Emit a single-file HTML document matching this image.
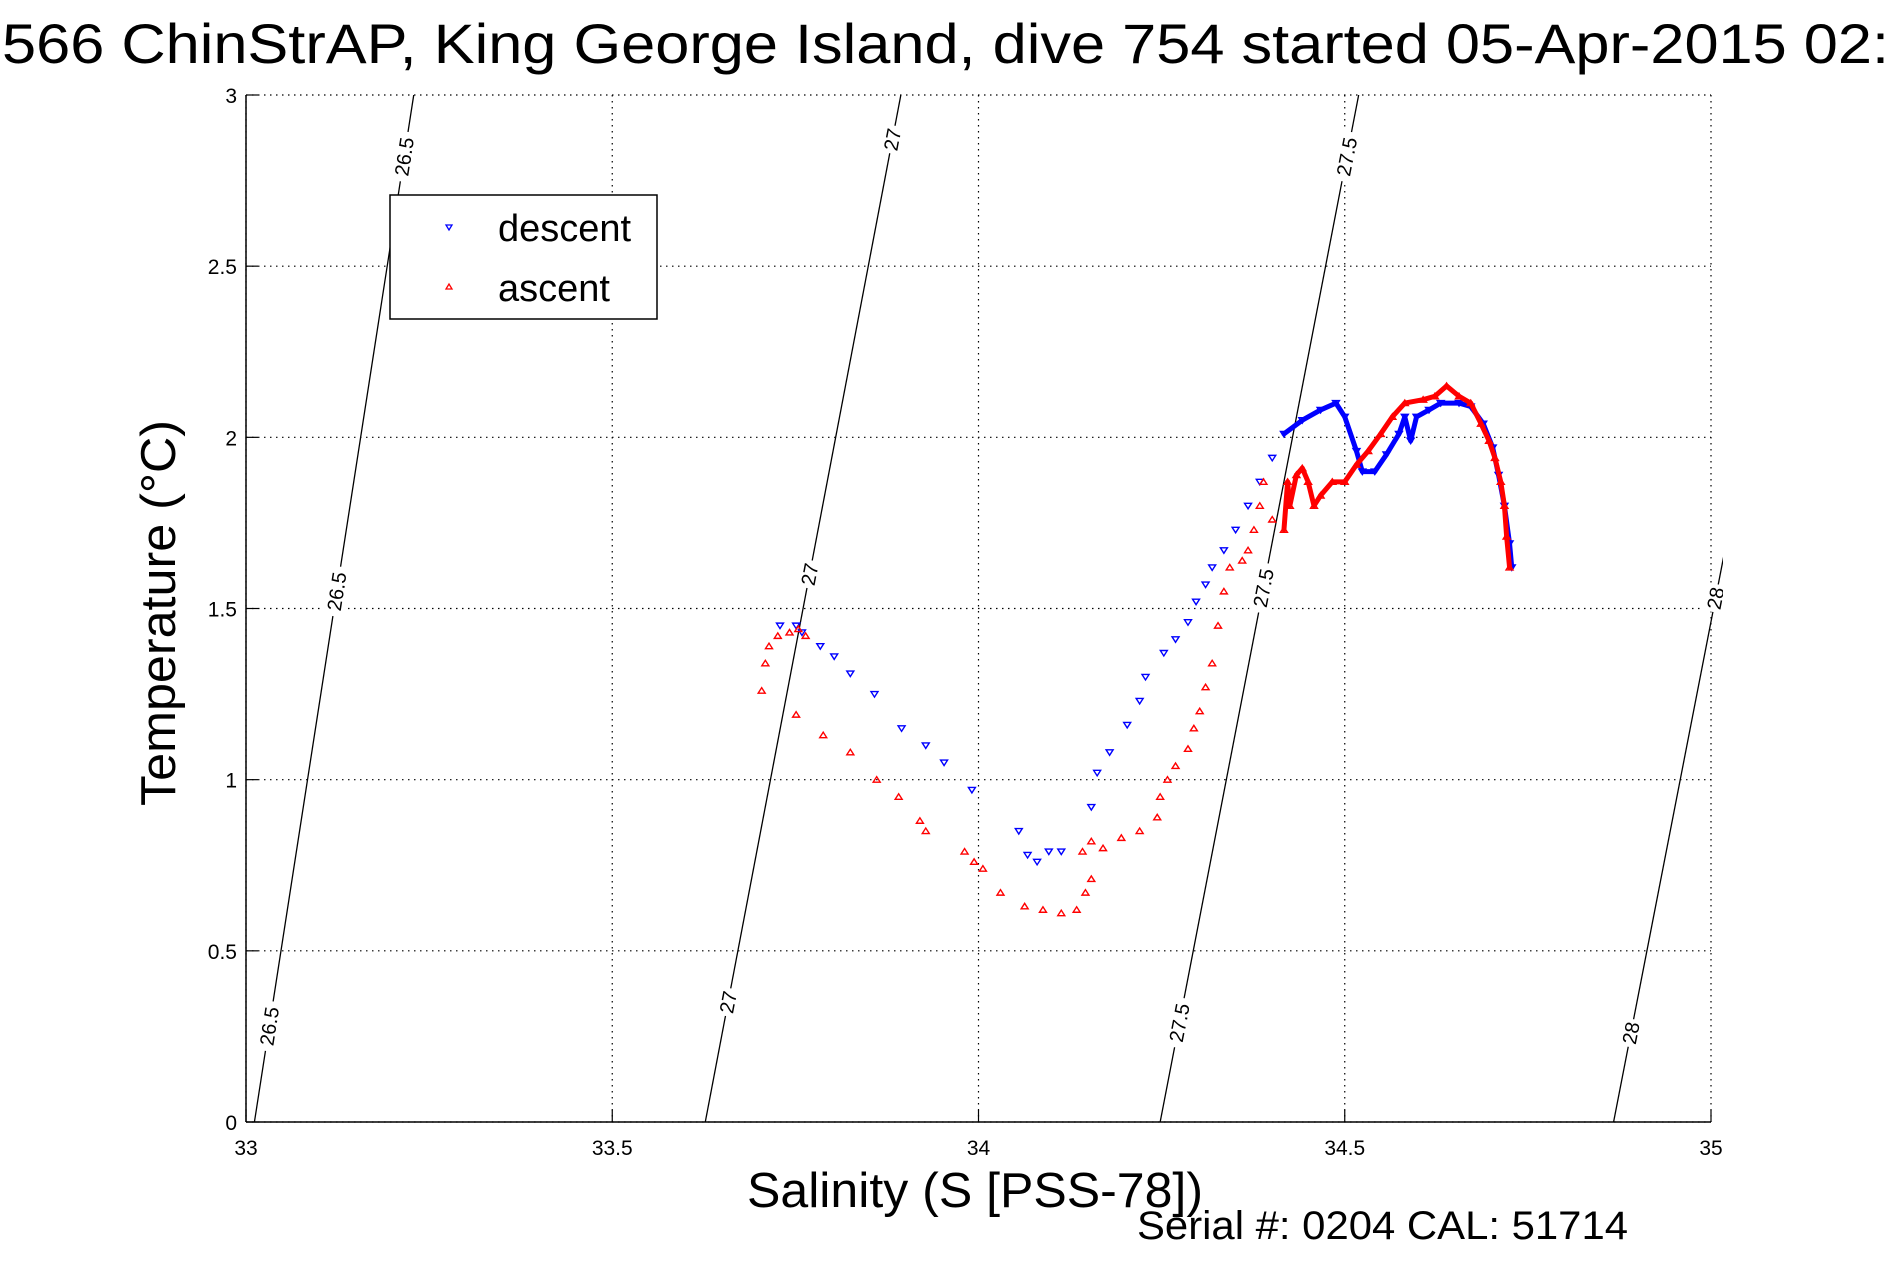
<!DOCTYPE html>
<html><head><meta charset="utf-8"><style>
html,body{margin:0;padding:0;background:#fff;}
svg{display:block;font-family:"Liberation Sans",sans-serif;}
</style></head><body>
<svg id="chart" width="1891" height="1262" viewBox="0 0 1891 1262" xmlns="http://www.w3.org/2000/svg">
<rect width="1891" height="1262" fill="#fff"/>
<text x="2" y="63" font-size="56" textLength="1887" lengthAdjust="spacingAndGlyphs">566 ChinStrAP, King George Island, dive 754 started 05-Apr-2015 02:</text>
<g id="grid"></g>
<g id="iso"></g>
<g id="series"></g>
<g id="axes"></g>
<text transform="translate(175,613) rotate(-90)" text-anchor="middle" font-size="49" textLength="386" lengthAdjust="spacingAndGlyphs">Temperature (°C)</text>
<text x="975" y="1207" text-anchor="middle" font-size="49" textLength="456" lengthAdjust="spacingAndGlyphs">Salinity (S [PSS-78])</text>
<text x="1137" y="1239" font-size="40" textLength="491" lengthAdjust="spacingAndGlyphs">Serial #: 0204  CAL: 51714</text>
<g>
<rect x="390" y="195" width="267" height="124" fill="#fff" stroke="#000" stroke-width="1.5"/>
<path d="M446,225 L452,225 L449,230 Z" fill="none" stroke="#00f" stroke-width="1.3"/>
<text x="498" y="241" font-size="38">descent</text>
<path d="M446,289 L452,289 L449,284 Z" fill="none" stroke="#f00" stroke-width="1.3"/>
<text x="498" y="301" font-size="38">ascent</text>
</g>
</svg>
<script>
const xTicks=[33,33.5,34,34.5,35];
const xTickLabels=["33","33.5","34","34.5","35"];
const yTicks=[0,0.5,1,1.5,2,2.5,3];
const yTickLabels=["0","0.5","1","1.5","2","2.5","3"];
const isoLevels=["26.5","27","27.5","28"];
const isoS0=[33.0115,33.627,34.248,34.867];
const isoS3=[33.229,33.894,34.519,35.14];
const isoLabelT=[[2.82,1.55,0.28],[2.87,1.60,0.35],[2.82,1.56,0.29],[1.53,0.26]];
const descS=[33.729,33.751,33.759,33.784,33.803,33.825,33.858,33.895,33.928,33.953,33.991,34.055,34.067,34.080,34.096,34.113,34.154,34.162,34.179,34.203,34.220,34.228,34.253,34.269,34.286,34.297,34.310,34.319,34.335,34.351,34.368,34.384,34.401,34.417,34.442,34.467,34.488,34.500,34.516,34.524,34.541,34.557,34.574,34.582,34.590,34.598,34.615,34.631,34.656,34.672,34.689,34.702,34.710,34.718,34.725,34.728];
const descT=[1.45,1.45,1.43,1.39,1.36,1.31,1.25,1.15,1.10,1.05,0.97,0.85,0.78,0.76,0.79,0.79,0.92,1.02,1.08,1.16,1.23,1.30,1.37,1.41,1.46,1.52,1.57,1.62,1.67,1.73,1.80,1.87,1.94,2.01,2.05,2.08,2.10,2.06,1.96,1.90,1.90,1.95,2.01,2.06,1.99,2.06,2.08,2.10,2.10,2.09,2.04,1.97,1.89,1.80,1.69,1.62];
const ascS=[33.704,33.709,33.714,33.726,33.742,33.754,33.764,33.751,33.788,33.825,33.861,33.891,33.920,33.928,33.981,33.994,34.006,34.030,34.063,34.088,34.113,34.134,34.146,34.154,34.142,34.154,34.170,34.195,34.220,34.244,34.248,34.258,34.269,34.286,34.294,34.302,34.310,34.319,34.327,34.335,34.343,34.360,34.368,34.376,34.384,34.389,34.401,34.417,34.422,34.425,34.434,34.442,34.450,34.458,34.467,34.483,34.500,34.516,34.532,34.549,34.565,34.582,34.607,34.623,34.639,34.656,34.672,34.686,34.697,34.705,34.713,34.718,34.721,34.725];
const ascT=[1.26,1.34,1.39,1.42,1.43,1.44,1.42,1.19,1.13,1.08,1.00,0.95,0.88,0.85,0.79,0.76,0.74,0.67,0.63,0.62,0.61,0.62,0.67,0.71,0.79,0.82,0.80,0.83,0.85,0.89,0.95,1.00,1.04,1.09,1.15,1.20,1.27,1.34,1.45,1.55,1.62,1.64,1.67,1.73,1.80,1.87,1.76,1.73,1.87,1.80,1.89,1.91,1.87,1.80,1.83,1.87,1.87,1.92,1.96,2.01,2.06,2.10,2.11,2.12,2.15,2.12,2.10,2.04,1.99,1.94,1.87,1.80,1.71,1.62];

const L=246,R=1711,T=95,B=1122;
const xs=s=>L+(s-33)/2*(R-L);
const ys=t=>B-t/3*(B-T);
const NS="http://www.w3.org/2000/svg";
function mk(tag,parent,attrs){const e=document.createElementNS(NS,tag);for(const k in attrs)e.setAttribute(k,attrs[k]);parent.appendChild(e);return e;}
const grid=document.getElementById('grid'),axes=document.getElementById('axes'),iso=document.getElementById('iso'),ser=document.getElementById('series');

xTicks.forEach((v,i)=>{
  const x=xs(v);
  const g=mk('line',grid,{x1:x,x2:x,y1:T,y2:B,stroke:'#000','stroke-width':1.2,'stroke-dasharray':'1.5 4.5'});
  
  
  const tk=mk('line',axes,{x1:x,x2:x,y1:B,y2:B-12,stroke:'#000','stroke-width':1.2});
  
  
  const t=mk('text',axes,{x:x,y:1155,'text-anchor':'middle','font-size':21});
  t.textContent=xTickLabels[i];
  
  
});
yTicks.forEach((v,i)=>{
  const y=ys(v);
  const g=mk('line',grid,{x1:L,x2:R,y1:y,y2:y,stroke:'#000','stroke-width':1.2,'stroke-dasharray':'1.5 4.5'});
  
  
  const tk=mk('line',axes,{x1:L,x2:L+12,y1:y,y2:y,stroke:'#000','stroke-width':1.2});
  
  
  const t=mk('text',axes,{x:237,y:y+8,'text-anchor':'end','font-size':21});
  t.textContent=yTickLabels[i];
  
  
});
const xa=mk('line',axes,{x1:L,x2:R,y1:B,y2:B,stroke:'#000','stroke-width':1.5});


const ya=mk('line',axes,{x1:L,x2:L,y1:T,y2:B,stroke:'#000','stroke-width':1.5});



const defs=mk('defs',document.getElementById('chart'),{});
const cp=mk('clipPath',defs,{id:'pc'});
mk('rect',cp,{x:L,y:T,width:R-L+12,height:B-T});
iso.setAttribute('clip-path','url(#pc)');
isoLevels.forEach((lev,i)=>{
  const x0=xs(isoS0[i]),y0=ys(0),x3=xs(isoS3[i]),y3=ys(3);
  const ln=mk('line',iso,{x1:x0,y1:y0,x2:x3,y2:y3,stroke:'#000','stroke-width':1.3});
  
  
  const ang=Math.atan2(y3-y0,x3-x0)*180/Math.PI;
  isoLabelT[i].forEach(tv=>{
    const f=tv/3,cx=x0+(x3-x0)*f,cy=y0+(y3-y0)*f;
    const g=mk('g',iso,{transform:`translate(${cx},${cy}) rotate(${ang})`});
    
    
    const w=lev.length*11+6;
    mk('rect',g,{x:-w/2,y:-10,width:w,height:20,fill:'#fff'});
    const t=mk('text',g,{x:0,y:7,'text-anchor':'middle','font-size':20});
    t.textContent=lev;
  });
});

function drawSeries(S,Tv,color,down,name){
  const g=mk('g',ser,{});
  
  
  for(let i=1;i<S.length;i++){
    const x1=xs(S[i-1]),y1=ys(Tv[i-1]),x2=xs(S[i]),y2=ys(Tv[i]);
    if(Math.hypot(x2-x1,y2-y1)<60&&S[i-1]>34.41&&S[i]>34.41){
      const l=mk('line',g,{x1,y1,x2,y2,stroke:color,'stroke-width':5,'stroke-linecap':'round'});
      
      
    }
  }
  S.forEach((s,i)=>{
    const x=xs(s),y=ys(Tv[i]);
    const d=down?`M${x-3.5},${y-2.5} L${x+3.5},${y-2.5} L${x},${y+3} Z`:`M${x-3.5},${y+2.5} L${x+3.5},${y+2.5} L${x},${y-3} Z`;
    const p=mk('path',g,{d,fill:'none',stroke:color,'stroke-width':1.4});
    
    
  });
}
drawSeries(descS,descT,'#00f',true,'descent');
drawSeries(ascS,ascT,'#f00',false,'ascent');
</script>
</body></html>
